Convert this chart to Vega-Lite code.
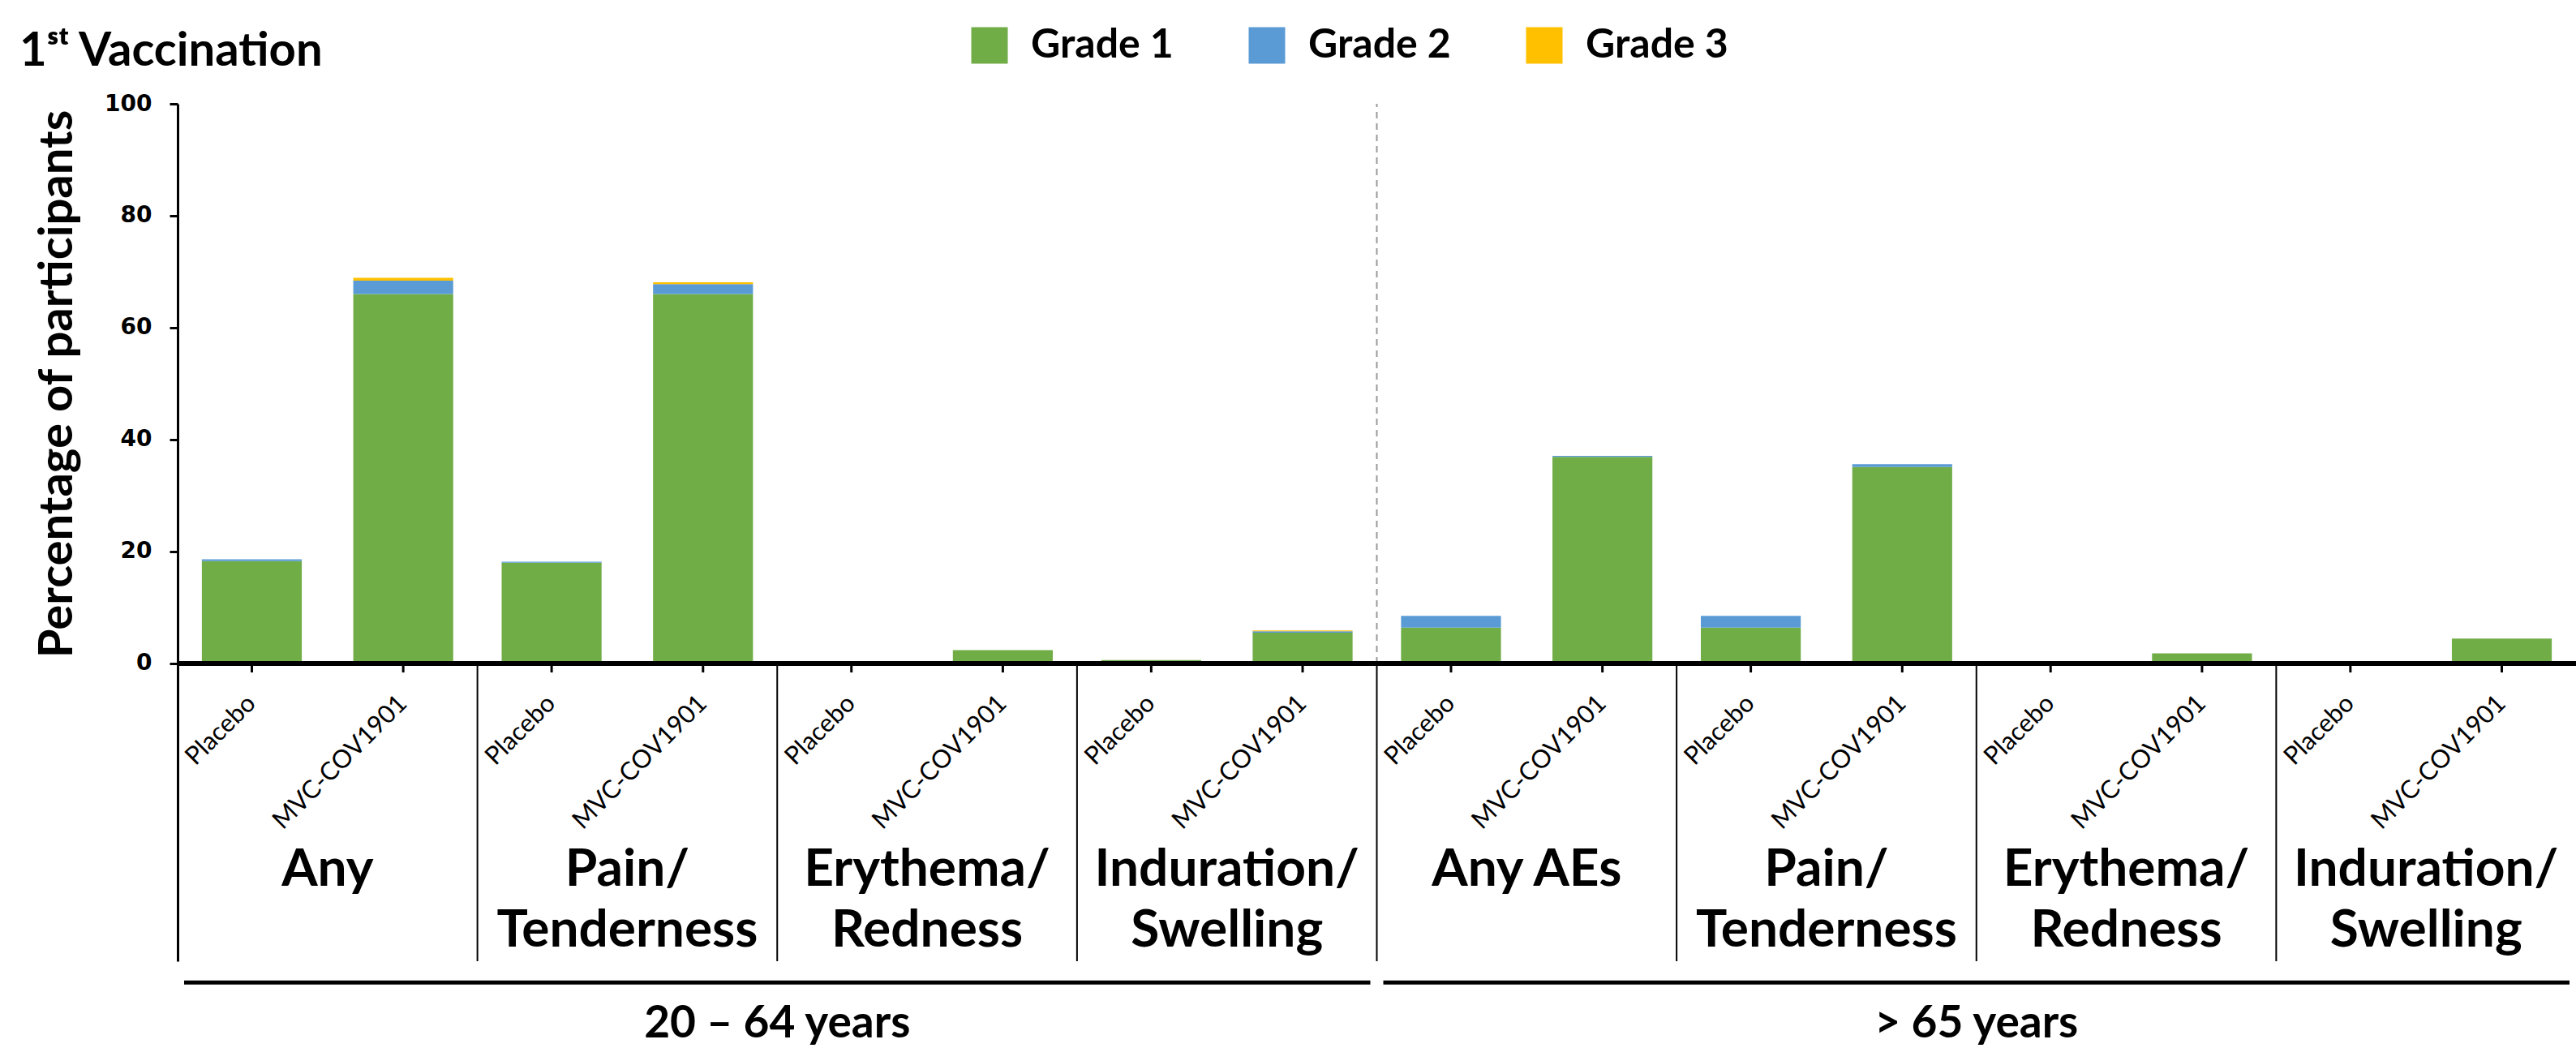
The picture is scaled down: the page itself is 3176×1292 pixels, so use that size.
{
  "$schema": "https://vega.github.io/schema/vega-lite/v6.json",
  "width": 2957,
  "height": 1057,
  "autosize": {"type": "none"},
  "padding": {"left": 219, "top": 128, "right": 0, "bottom": 107},
  "background": "white",
  "title": {
    "text": "1ˢᵗ Vaccination",
    "anchor": "start",
    "frame": "group",
    "font": "Lato",
    "fontSize": 58,
    "fontWeight": "bold",
    "color": "black",
    "baseline": "middle",
    "dx": -195,
    "offset": -91
  },
  "datasets": {
    "bars": [
      {"group": "20-64|Any", "arm": "Placebo", "grade": "Grade 1", "value": 18.3},
      {"group": "20-64|Any", "arm": "Placebo", "grade": "Grade 2", "value": 0.3},
      {"group": "20-64|Any", "arm": "MVC-COV1901", "grade": "Grade 1", "value": 66.0},
      {"group": "20-64|Any", "arm": "MVC-COV1901", "grade": "Grade 2", "value": 2.4},
      {"group": "20-64|Any", "arm": "MVC-COV1901", "grade": "Grade 3", "value": 0.5},
      {"group": "20-64|Pain", "arm": "Placebo", "grade": "Grade 1", "value": 18.0},
      {"group": "20-64|Pain", "arm": "Placebo", "grade": "Grade 2", "value": 0.2},
      {"group": "20-64|Pain", "arm": "MVC-COV1901", "grade": "Grade 1", "value": 66.0},
      {"group": "20-64|Pain", "arm": "MVC-COV1901", "grade": "Grade 2", "value": 1.8},
      {"group": "20-64|Pain", "arm": "MVC-COV1901", "grade": "Grade 3", "value": 0.3},
      {"group": "20-64|Erythema", "arm": "MVC-COV1901", "grade": "Grade 1", "value": 2.4},
      {"group": "20-64|Induration", "arm": "Placebo", "grade": "Grade 1", "value": 0.6},
      {"group": "20-64|Induration", "arm": "MVC-COV1901", "grade": "Grade 1", "value": 5.5},
      {"group": "20-64|Induration", "arm": "MVC-COV1901", "grade": "Grade 2", "value": 0.25},
      {"group": "20-64|Induration", "arm": "MVC-COV1901", "grade": "Grade 3", "value": 0.15},
      {"group": ">65|Any AEs", "arm": "Placebo", "grade": "Grade 1", "value": 6.4},
      {"group": ">65|Any AEs", "arm": "Placebo", "grade": "Grade 2", "value": 2.1},
      {"group": ">65|Any AEs", "arm": "MVC-COV1901", "grade": "Grade 1", "value": 36.9},
      {"group": ">65|Any AEs", "arm": "MVC-COV1901", "grade": "Grade 2", "value": 0.2},
      {"group": ">65|Pain", "arm": "Placebo", "grade": "Grade 1", "value": 6.4},
      {"group": ">65|Pain", "arm": "Placebo", "grade": "Grade 2", "value": 2.1},
      {"group": ">65|Pain", "arm": "MVC-COV1901", "grade": "Grade 1", "value": 35.1},
      {"group": ">65|Pain", "arm": "MVC-COV1901", "grade": "Grade 2", "value": 0.5},
      {"group": ">65|Erythema", "arm": "MVC-COV1901", "grade": "Grade 1", "value": 1.8},
      {"group": ">65|Induration", "arm": "MVC-COV1901", "grade": "Grade 1", "value": 4.45}
    ],
    "groups": [
      {"group": "20-64|Any", "category": "Any"},
      {"group": "20-64|Pain", "category": "Pain/\nTenderness"},
      {"group": "20-64|Erythema", "category": "Erythema/\nRedness"},
      {"group": "20-64|Induration", "category": "Induration/\nSwelling"},
      {"group": ">65|Any AEs", "category": "Any AEs"},
      {"group": ">65|Pain", "category": "Pain/\nTenderness"},
      {"group": ">65|Erythema", "category": "Erythema/\nRedness"},
      {"group": ">65|Induration", "category": "Induration/\nSwelling"}
    ],
    "slots": [
      {"group": "20-64|Any", "arm": "Placebo"},
      {"group": "20-64|Any", "arm": "MVC-COV1901"},
      {"group": "20-64|Pain", "arm": "Placebo"},
      {"group": "20-64|Pain", "arm": "MVC-COV1901"},
      {"group": "20-64|Erythema", "arm": "Placebo"},
      {"group": "20-64|Erythema", "arm": "MVC-COV1901"},
      {"group": "20-64|Induration", "arm": "Placebo"},
      {"group": "20-64|Induration", "arm": "MVC-COV1901"},
      {"group": ">65|Any AEs", "arm": "Placebo"},
      {"group": ">65|Any AEs", "arm": "MVC-COV1901"},
      {"group": ">65|Pain", "arm": "Placebo"},
      {"group": ">65|Pain", "arm": "MVC-COV1901"},
      {"group": ">65|Erythema", "arm": "Placebo"},
      {"group": ">65|Erythema", "arm": "MVC-COV1901"},
      {"group": ">65|Induration", "arm": "Placebo"},
      {"group": ">65|Induration", "arm": "MVC-COV1901"}
    ],
    "ages": [
      {"age": "20 – 64 years", "first": "20-64|Any", "last": "20-64|Induration", "mid": "20-64|Erythema"},
      {"age": "> 65 years", "first": ">65|Any AEs", "last": ">65|Induration", "mid": ">65|Erythema"}
    ]
  },
  "layer": [
    {
      "data": {"name": "bars"},
      "mark": {"type": "bar"},
      "encoding": {
        "x": {"field": "group", "type": "nominal", "scale": {"domain": ["20-64|Any", "20-64|Pain", "20-64|Erythema", "20-64|Induration", ">65|Any AEs", ">65|Pain", ">65|Erythema", ">65|Induration"], "paddingInner": 0, "paddingOuter": 0}, "axis": null},
        "xOffset": {"field": "arm", "type": "nominal", "scale": {"domain": ["Placebo", "MVC-COV1901"], "paddingInner": 0.34, "paddingOuter": 0.16}},
        "y": {
          "field": "value", "type": "quantitative", "stack": "zero",
          "scale": {"domain": [-53.2, 100], "nice": false, "zero": false},
          "axis": {
            "title": "Percentage of participants",
            "values": [0, 20, 40, 60, 80, 100],
            "grid": false,
            "domainColor": "black", "domainWidth": 3,
            "tickColor": "black", "tickWidth": 3, "tickSize": 10,
            "labelFont": "DejaVu Sans", "labelFontWeight": "bold", "labelFontSize": 28, "labelColor": "black", "labelPadding": 22,
            "titleFont": "Lato", "titleFontWeight": "bold", "titleFontSize": 58, "titleColor": "black",
            "titleX": -148, "titleY": 345, "titleAngle": -90, "titleAlign": "center", "titleBaseline": "middle"
          }
        },
        "color": {
          "field": "grade", "type": "nominal",
          "scale": {"domain": ["Grade 1", "Grade 2", "Grade 3"], "range": ["#70AD47", "#5B9BD5", "#FFC000"]},
          "legend": {
            "orient": "none", "legendX": 976, "legendY": -97, "direction": "horizontal", "title": null,
            "symbolType": "square", "symbolSize": 2025, "symbolStrokeWidth": 0,
            "labelFont": "Lato", "labelFontSize": 50, "labelFontWeight": "bold", "labelColor": "black",
            "labelOffset": 26, "columnPadding": 90, "labelLimit": 400
          }
        },
        "order": {"field": "grade", "sort": "ascending"}
      }
    },
    {
      "data": {"name": "groups"},
      "mark": {"type": "rule", "color": "black", "strokeWidth": 2},
      "encoding": {
        "x": {"field": "group", "type": "nominal", "scale": {"domain": ["20-64|Any", "20-64|Pain", "20-64|Erythema", "20-64|Induration", ">65|Any AEs", ">65|Pain", ">65|Erythema", ">65|Induration"]}, "bandPosition": 0},
        "y": {"datum": 0},
        "y2": {"datum": -53.2}
      }
    },
    {
      "data": {"name": "groups"},
      "transform": [{"filter": "datum.group === '>65|Any AEs'"}],
      "mark": {"type": "rule", "color": "#9a9a9a", "strokeWidth": 2, "strokeDash": [8, 6]},
      "encoding": {
        "x": {"field": "group", "type": "nominal", "scale": {"domain": ["20-64|Any", "20-64|Pain", "20-64|Erythema", "20-64|Induration", ">65|Any AEs", ">65|Pain", ">65|Erythema", ">65|Induration"]}, "bandPosition": 0},
        "y": {"datum": 0},
        "y2": {"datum": 100}
      }
    },
    {
      "data": {"name": "groups"},
      "mark": {"type": "rule", "color": "black", "strokeWidth": 5},
      "encoding": {"y": {"datum": 0}}
    },
    {
      "data": {"name": "slots"},
      "mark": {"type": "rule", "color": "black", "strokeWidth": 3},
      "encoding": {
        "x": {"field": "group", "type": "nominal", "scale": {"domain": ["20-64|Any", "20-64|Pain", "20-64|Erythema", "20-64|Induration", ">65|Any AEs", ">65|Pain", ">65|Erythema", ">65|Induration"]}},
        "xOffset": {"field": "arm", "type": "nominal", "scale": {"domain": ["Placebo", "MVC-COV1901"]}},
        "y": {"datum": 0},
        "y2": {"datum": -1.6}
      }
    },
    {
      "data": {"name": "slots"},
      "mark": {"type": "text", "angle": -45, "align": "right", "baseline": "middle", "font": "Lato", "fontSize": 31, "color": "black"},
      "encoding": {
        "x": {"field": "group", "type": "nominal", "scale": {"domain": ["20-64|Any", "20-64|Pain", "20-64|Erythema", "20-64|Induration", ">65|Any AEs", ">65|Pain", ">65|Erythema", ">65|Induration"]}},
        "xOffset": {"field": "arm", "type": "nominal", "scale": {"domain": ["Placebo", "MVC-COV1901"]}},
        "y": {"datum": -6.5},
        "text": {"field": "arm"}
      }
    },
    {
      "data": {"name": "groups"},
      "mark": {"type": "text", "align": "center", "baseline": "top", "lineBreak": "\n", "lineHeight": 75, "font": "Lato", "fontSize": 64, "fontWeight": "bold", "color": "black"},
      "encoding": {
        "x": {"field": "group", "type": "nominal", "scale": {"domain": ["20-64|Any", "20-64|Pain", "20-64|Erythema", "20-64|Induration", ">65|Any AEs", ">65|Pain", ">65|Erythema", ">65|Induration"]}},
        "y": {"datum": -32.4},
        "text": {"field": "category"}
      }
    },
    {
      "data": {"name": "ages"},
      "mark": {"type": "rule", "color": "black", "strokeWidth": 5, "xOffset": 8, "x2Offset": -8},
      "encoding": {
        "x": {"field": "first", "type": "nominal", "scale": {"domain": ["20-64|Any", "20-64|Pain", "20-64|Erythema", "20-64|Induration", ">65|Any AEs", ">65|Pain", ">65|Erythema", ">65|Induration"]}, "bandPosition": 0},
        "x2": {"field": "last", "bandPosition": 1},
        "y": {"datum": -57}
      }
    },
    {
      "data": {"name": "ages"},
      "mark": {"type": "text", "align": "center", "baseline": "middle", "font": "Lato", "fontSize": 55, "fontWeight": "bold", "color": "black"},
      "encoding": {
        "x": {"field": "mid", "type": "nominal", "scale": {"domain": ["20-64|Any", "20-64|Pain", "20-64|Erythema", "20-64|Induration", ">65|Any AEs", ">65|Pain", ">65|Erythema", ">65|Induration"]}, "bandPosition": 0},
        "y": {"datum": -64.3},
        "text": {"field": "age"}
      }
    }
  ],
  "config": {"view": {"stroke": null}, "font": "Lato"}
}
